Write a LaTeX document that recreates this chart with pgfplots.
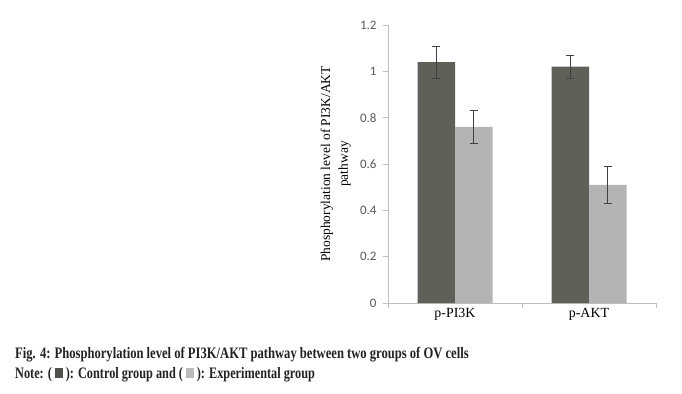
\documentclass[border=0pt]{standalone}
\usepackage{pgfplots}
\pgfplotsset{compat=1.18}
\usepackage{fontspec}
\setmainfont{Liberation Serif}
\newfontfamily\carlito{Carlito}
\definecolor{darkbar}{HTML}{5F6058}
\definecolor{lightbar}{HTML}{B4B4B4}
\definecolor{axgray}{HTML}{BFBFBF}
\definecolor{ticklab}{HTML}{595959}
\definecolor{errc}{HTML}{404040}
\definecolor{capc}{HTML}{222222}
\begin{document}
\begin{tikzpicture}[x=1bp,y=1bp]
\path[use as bounding box, fill=white] (0,0) rectangle (682,393);
\begin{axis}[
  at={(388bp,90bp)}, anchor=south west,
  scale only axis, width=268bp, height=278bp,
  xmin=-0.5, xmax=1.5, ymin=0, ymax=1.2,
  axis x line*=bottom, axis y line*=left,
  axis line style={axgray, line width=0.8pt},
  ybar=0pt, bar width=37.5bp,
  xtick={-0.5,0.5,1.5}, xticklabels={},
  extra x ticks={0,1}, extra x tick labels={p-PI3K,p-AKT},
  extra x tick style={major tick length=0pt, tick label style={font=\fontsize{14}{15}\selectfont, text=black, yshift=-2bp}},
  ytick={0,0.2,0.4,0.6,0.8,1,1.2},
  yticklabels={0,0.2,0.4,0.6,0.8,1,1.2},
  tick align=outside, major tick length=5bp,
  tick style={axgray, line width=0.8pt},
  yticklabel style={font=\carlito\fontsize{13}{14}\selectfont, text=ticklab, xshift=-3bp},
  ylabel={Phosphorylation level of PI3K/AKT\\pathway},
  ylabel style={align=center, font=\fontsize{13.5}{18}\selectfont, at={(axis description cs:-0.195,0.5)}, anchor=center},
  error bars/error bar style={errc, line width=0.6pt},
  error bars/error mark options={errc, rotate=90, mark size=4bp, line width=0.6pt},
]
\addplot[fill=darkbar, draw=none, error bars/.cd, y dir=both, y explicit]
  coordinates {(0,1.04) +- (0,0.07) (1,1.02) +- (0,0.05)};
\addplot[fill=lightbar, draw=none, error bars/.cd, y dir=both, y explicit]
  coordinates {(0,0.76) +- (0,0.07) (1,0.51) +- (0,0.08)};
\end{axis}
\node[anchor=base west, inner sep=0pt, text=capc, font=\bfseries\fontsize{16}{18}\selectfont] at (15,35) {\scalebox{0.79}[1]{Fig. 4: Phosphorylation level of PI3K/AKT pathway between two groups of OV cells}};
\node[anchor=base west, inner sep=0pt, text=capc, font=\bfseries\fontsize{16}{18}\selectfont] at (15,15) {\scalebox{0.77}[1]{Note: ( {\color{darkbar!85!black}\rule{10bp}{10bp}} ): Control group and ( {\color{lightbar!90!white}\rule{10bp}{10bp}} ): Experimental group}};
\end{tikzpicture}
\end{document}
